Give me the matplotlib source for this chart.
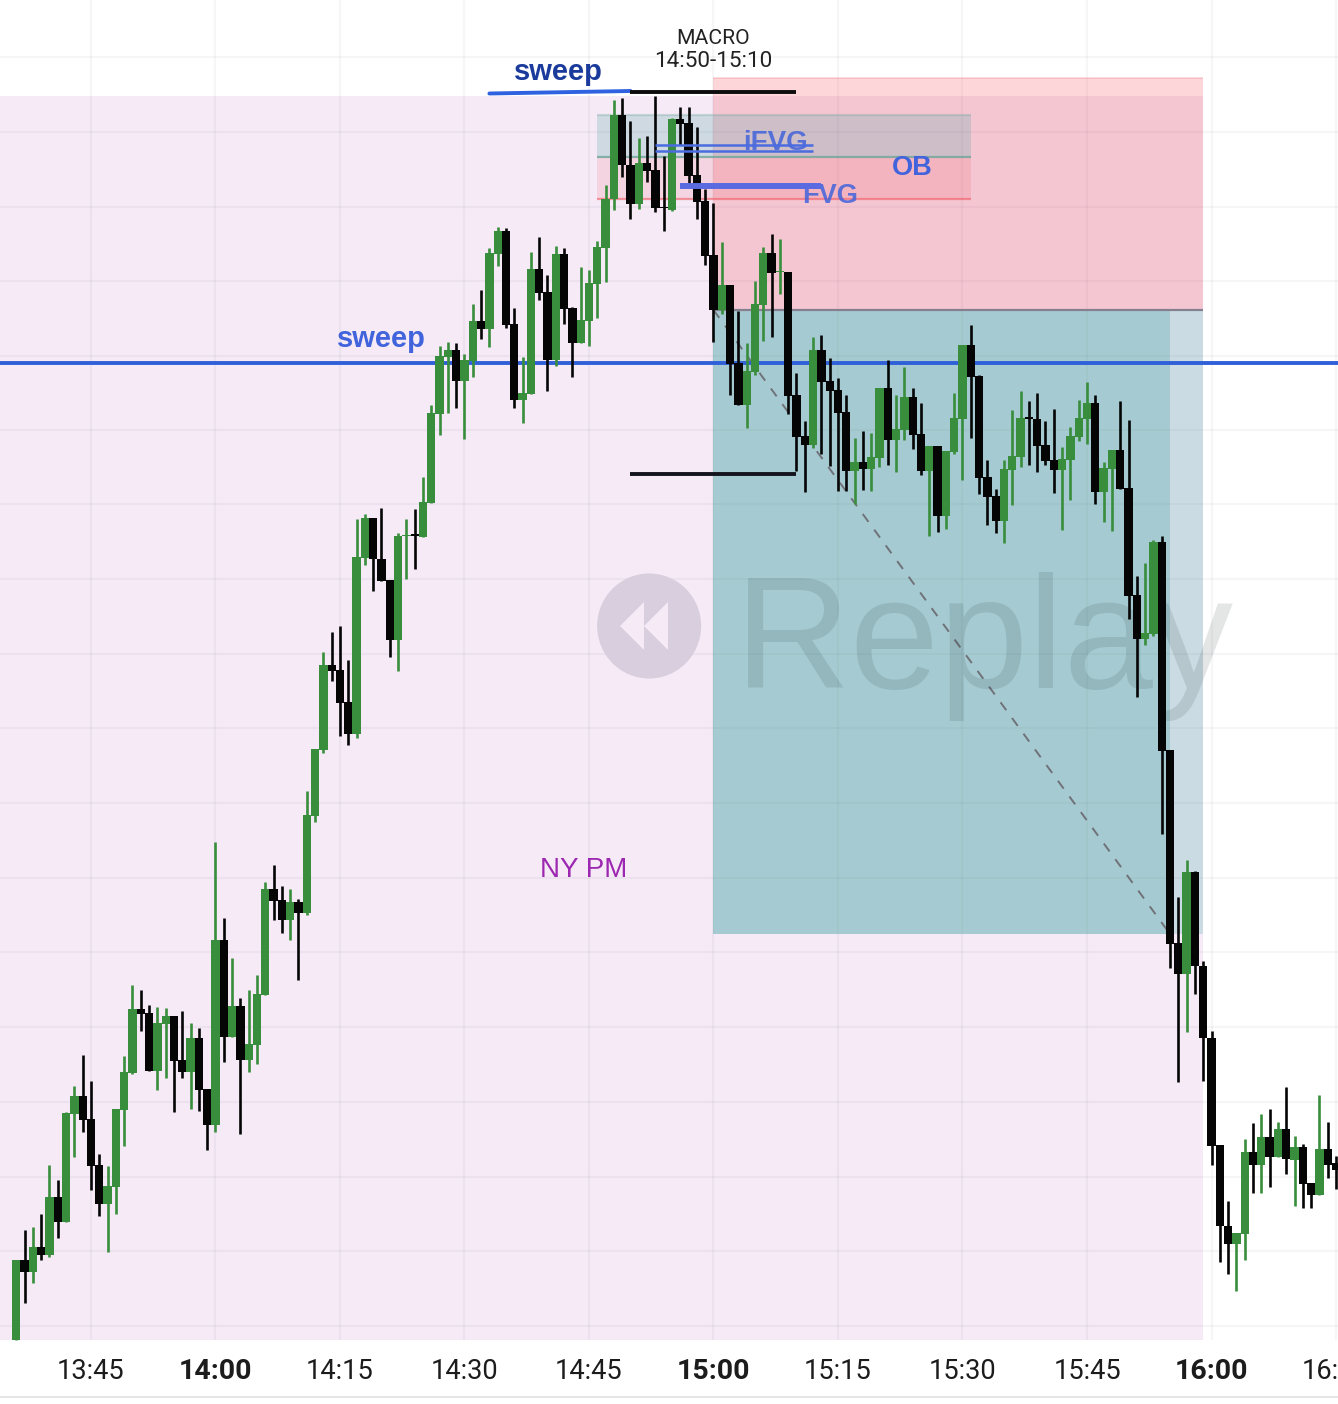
import matplotlib
matplotlib.use("Agg")
import matplotlib.pyplot as plt
from matplotlib.patches import Ellipse, Polygon, Rectangle

# one candle per minute, first one at 13:36
first_minute = 13 * 60 + 36

# G = up candle, K = down candle
direction = ("GKGKGKGGKK" "KGGGGKKGGK" "KGKKGKGKGG" "GKKGKGGGKK" "KGGKKKGGKG"
             "GGGKGGKGGK" "KGGKKGKKGG" "GGGKKGKKKG" "KKKKKGKKGG" "GKGKKKGKKK"
             "KGKGGKGGKK" "GKGGGKKKKG" "GGKKKKGGGG" "KGGKKKGGKK" "KGKKKKKGGK"
             "GKGKGKKGKK")

# levels, smaller = higher price
body_top = [1260, 1260, 1247, 1247, 1197, 1197, 1113, 1096, 1096, 1119,
            1165, 1186, 1109, 1072, 1009, 1009, 1013, 1023, 1016, 1016,
            1060, 1038, 1038, 1089, 940, 940, 1006, 1006, 1044, 994,
            889, 889, 900, 902, 902, 815, 749, 665, 665, 670,
            702, 557, 518, 518, 559, 580, 536, 535, 534, 502,
            413, 356, 350, 350, 360, 321, 321, 253, 231, 231,
            324, 393, 269, 269, 292, 254, 254, 308, 320, 283,
            247, 199, 115, 115, 165, 163, 163, 170, 207, 119,
            119, 123, 175, 201, 255, 285, 285, 363, 371, 304,
            253, 253, 271, 272, 395, 436, 350, 350, 381, 390,
            412, 462, 462, 457, 388, 388, 429, 397, 397, 434,
            446, 446, 451, 418, 345, 345, 376, 477, 496, 469,
            456, 418, 417, 419, 445, 460, 459, 436, 418, 403,
            403, 468, 450, 450, 488, 595, 633, 542, 542, 750,
            943, 872, 872, 966, 1038, 1145, 1226, 1233, 1152, 1152,
            1137, 1137, 1129, 1129, 1147, 1147, 1183, 1149, 1149, 1163]
body_bottom = [1340, 1272, 1272, 1255, 1255, 1222, 1222, 1114, 1120, 1166,
               1204, 1204, 1187, 1110, 1073, 1014, 1071, 1071, 1024, 1061,
               1072, 1072, 1090, 1125, 1125, 1037, 1037, 1060, 1060, 1045,
               995, 901, 920, 920, 913, 913, 816, 750, 671, 703,
               734, 734, 558, 559, 581, 640, 640, 536, 536, 537,
               503, 414, 357, 381, 381, 361, 329, 329, 254, 325,
               400, 400, 394, 293, 360, 360, 309, 343, 343, 321,
               284, 248, 199, 165, 204, 204, 171, 208, 208, 210,
               124, 176, 202, 256, 310, 310, 364, 405, 405, 372,
               305, 273, 272, 396, 437, 445, 445, 382, 391, 413,
               471, 471, 469, 469, 458, 440, 440, 430, 435, 471,
               471, 516, 516, 452, 419, 377, 478, 497, 521, 521,
               470, 457, 419, 446, 461, 470, 470, 460, 437, 419,
               492, 492, 469, 489, 596, 639, 639, 634, 751, 944,
               974, 974, 966, 1038, 1146, 1226, 1244, 1244, 1234, 1165,
               1165, 1157, 1157, 1159, 1160, 1184, 1195, 1195, 1165, 1170]
wick_high = [1260, 1230, 1227, 1214, 1165, 1180, 1112, 1086, 1055, 1081,
             1154, 1166, 1109, 1056, 985, 990, 1005, 1007, 1008, 1016,
             1011, 1023, 1028, 1089, 842, 918, 958, 998, 990, 975,
             882, 865, 886, 889, 899, 791, 749, 652, 632, 626,
             660, 519, 514, 518, 508, 580, 533, 519, 509, 477,
             405, 346, 342, 343, 354, 304, 290, 248, 227, 228,
             308, 357, 252, 237, 275, 246, 248, 307, 267, 270,
             241, 185, 100, 98, 121, 138, 136, 96, 156, 118,
             107, 107, 127, 189, 203, 242, 285, 311, 343, 281,
             247, 234, 239, 272, 373, 421, 337, 335, 358, 378,
             395, 438, 431, 433, 388, 360, 395, 367, 388, 403,
             446, 446, 451, 393, 345, 325, 375, 460, 489, 460,
             410, 391, 401, 393, 421, 409, 447, 427, 400, 382,
             395, 462, 450, 401, 420, 576, 563, 540, 536, 750,
             897, 860, 871, 961, 1031, 1145, 1201, 1233, 1139, 1123,
             1114, 1109, 1122, 1087, 1136, 1144, 1183, 1095, 1122, 1156]
wick_low = [1340, 1303, 1283, 1260, 1257, 1238, 1222, 1157, 1132, 1190,
            1216, 1252, 1214, 1146, 1074, 1031, 1071, 1090, 1078, 1112,
            1078, 1109, 1111, 1150, 1132, 1062, 1037, 1134, 1072, 1064,
            995, 920, 933, 940, 980, 915, 822, 753, 681, 736,
            745, 738, 565, 591, 581, 657, 671, 579, 569, 537,
            503, 435, 413, 408, 439, 377, 339, 347, 266, 328,
            408, 423, 394, 300, 391, 366, 324, 377, 343, 346,
            318, 282, 210, 177, 219, 209, 182, 212, 231, 211,
            145, 184, 219, 265, 342, 314, 395, 405, 428, 375,
            341, 337, 294, 414, 471, 492, 448, 454, 466, 491,
            491, 504, 490, 491, 467, 465, 472, 440, 449, 475,
            536, 532, 529, 454, 480, 438, 494, 525, 533, 543,
            505, 467, 465, 472, 465, 493, 530, 500, 441, 444,
            504, 522, 531, 489, 619, 697, 645, 636, 834, 968,
            1082, 1032, 994, 1081, 1165, 1262, 1274, 1291, 1260, 1193,
            1193, 1187, 1157, 1174, 1206, 1208, 1208, 1195, 1178, 1189]

tick_labels = ["13:45", "14:00", "14:15", "14:30", "14:45", "15:00",
               "15:15", "15:30", "15:45", "16:00", "16:15"]
grid_levels = [57, 132, 207, 281, 356, 430, 504, 579, 654, 728, 803, 878,
               952, 1027, 1102, 1177, 1251, 1326]

GREEN = "#388e3c"
BLUE = "#4163dc"
GRID = (0.1, 0.1, 0.25, 0.04)
SANS = "Liberation Sans"


def minutes(label):
    h, m = label.split(":")
    return int(h) * 60 + int(m)


def box(t0, t1, top, bottom, color, zorder=2):
    ax.add_patch(Rectangle((minutes(t0), top), minutes(t1) - minutes(t0), bottom - top,
                           facecolor=color, edgecolor="none", zorder=zorder))


def hline(t0, t1, level, color, width, zorder=2):
    ax.plot([minutes(t0), minutes(t1)], [level, level], color=color, lw=width,
            solid_capstyle="butt", zorder=zorder)


fig = plt.figure(figsize=(13.38, 14.04), dpi=100, facecolor="white")
ax = fig.add_axes([0, 0, 1, 1])
ax.set_xlim(814.04, 975.24)
ax.set_ylim(1404, 0)
ax.axis("off")

# session background + grid
box("13:00", "15:59", 96, 1340, "#f5eaf6", zorder=0)
for level in grid_levels:
    ax.plot([800, 1000], [level, level], color=GRID, lw=1.6, zorder=1)
for lab in tick_labels:
    ax.plot([minutes(lab)] * 2, [0, 1340], color=GRID, lw=1.6, zorder=1)

# short / target boxes of the position tool
box("15:00", "15:59", 78, 310, (242 / 255, 54 / 255, 69 / 255, 0.2))
box("15:00", "15:59", 310, 934, (0, 150 / 255, 136 / 255, 0.17))
box("15:00", "15:55", 310, 934, (0, 130 / 255, 130 / 255, 0.18))
hline("15:00", "15:59", 78, (242 / 255, 54 / 255, 69 / 255, 0.2), 1.2)
hline("15:00", "15:59", 310, "#85808f", 1.6)
ax.plot([minutes("15:00"), minutes("15:55")], [310, 934], color="#6f7278", lw=1.4,
        dashes=(5, 5), zorder=3)

# fvg zones
box("14:46", "15:31", 115, 157, (90 / 255, 170 / 255, 170 / 255, 0.25))
box("14:46", "15:31", 157, 199, (242 / 255, 54 / 255, 69 / 255, 0.12))
hline("14:46", "15:31", 115, (120 / 255, 170 / 255, 160 / 255, 0.35), 1.6)
hline("14:46", "15:31", 157, (110 / 255, 165 / 255, 155 / 255, 0.8), 1.6)
hline("14:46", "15:31", 199, (242 / 255, 90 / 255, 100 / 255, 0.6), 1.6)

# replay watermark
ax.add_patch(Ellipse((minutes("14:52") + 0.25, 626), 104 / 8.3, 105,
                     facecolor="#d8cedd", edgecolor="none", zorder=3))
for tip, base in ((620, 644), (644, 668)):
    tip_x = 825 + (tip - 91) / 8.3
    base_x = 825 + (base - 91) / 8.3
    ax.add_patch(Polygon([(tip_x, 626), (base_x, 602), (base_x, 650)],
                         facecolor="#f5eaf6", edgecolor="none", zorder=3))
ax.text(825 + (735 - 91) / 8.3, 688, "Replay", family=SANS, fontsize=115.5,
        color=(0, 0.1, 0.1, 0.105), ha="left", va="baseline", zorder=3)

# blue level
ax.plot([800, 1000], [363, 363], color="#3060d8", lw=2.8, zorder=4)

# candles
for i, d in enumerate(direction):
    t = first_minute + i
    color = GREEN if d == "G" else "#050505"
    ax.plot([t, t], [wick_high[i], wick_low[i]], color=color, lw=1.9,
            solid_capstyle="butt", zorder=5 + i * 0.001)
    ax.bar(t, body_bottom[i] - body_top[i], bottom=body_top[i], width=1.0, color=color,
           linewidth=0, zorder=5 + i * 0.001)

# drawn levels and labels
ax.plot([minutes("14:33"), minutes("14:50")], [93.5, 91], color="#2f62e0", lw=2.8,
        solid_capstyle="round", zorder=7)
hline("14:50", "15:10", 92, "#0c0c0c", 2.8, zorder=7)
hline("14:50", "15:10", 474, "#14141e", 2.8, zorder=7)

ax.text(minutes("15:08") - 0.5, 150, "iFVG", family=SANS, weight="bold", fontsize=20,
        color=BLUE, ha="center", va="baseline", alpha=0.85, zorder=7)
ax.text(minutes("15:14"), 203, "FVG", family=SANS, weight="bold", fontsize=19.5,
        color=BLUE, ha="center", va="baseline", alpha=0.85, zorder=7)
ax.text(minutes("15:24"), 175, "OB", family=SANS, weight="bold", fontsize=19.5,
        color=BLUE, ha="center", va="baseline", zorder=7)
hline("14:53", "15:12", 145, "#4a6ce0", 1.8, zorder=8)
hline("14:53", "15:12", 151, "#4a6ce0", 1.8, zorder=8)
hline("14:56", "15:13", 185.5, "#5a6ae0", 4.3, zorder=8)

ax.text(minutes("14:41") + 0.3, 80, "sweep", family=SANS, weight="bold", fontsize=21,
        color="#1a3a9c", ha="center", va="baseline", zorder=7)
ax.text(minutes("14:20"), 347, "sweep", family=SANS, weight="bold", fontsize=21,
        color=BLUE, ha="center", va="baseline", zorder=7)
ax.text(minutes("14:44") + 0.4, 877, "NY PM", family=SANS, fontsize=20,
        color="#9c27b0", ha="center", va="baseline", zorder=7)
ax.text(minutes("15:00"), 44, "MACRO", family="Roboto", fontsize=15.2, color="#222222",
        ha="center", va="baseline", zorder=7)
ax.text(minutes("15:00"), 67, "14:50-15:10", family="Roboto", fontsize=16.2, color="#222222",
        ha="center", va="baseline", zorder=7)

# time axis
box("13:00", "17:00", 1340, 1404, "white", zorder=4)
box("13:00", "17:00", 1396, 1398, "#e6e6e6", zorder=4)
for lab in tick_labels:
    bold = lab.endswith(":00")
    ax.text(minutes(lab), 1379, lab, family="Roboto", fontsize=20.5 if bold else 19.6,
            weight="bold" if bold else "normal", color="#1c1c1c",
            ha="center", va="baseline", clip_on=True, zorder=7)

fig.savefig("out.png", dpi=100)
